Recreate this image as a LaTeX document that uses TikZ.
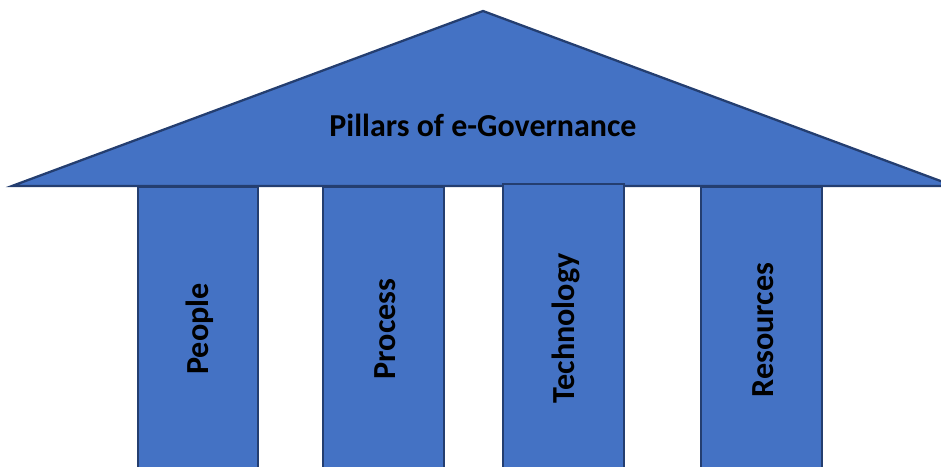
\documentclass[tikz,border=0pt]{standalone}
\usepackage{fontspec}
\setmainfont{Carlito}
\begin{document}
\begin{tikzpicture}[x=0.02cm, y=-0.02cm,
  pillarbox/.style={draw=pillarline, fill=pillarblue, line width=1.3pt},
  pillarlabel/.style={font=\fontsize{18.3}{22}\selectfont\bfseries, rotate=90, anchor=base, inner sep=0pt}]
  % Define colors
  \definecolor{pillarblue}{RGB}{68,114,196}
  \definecolor{pillarline}{RGB}{36,62,112}

  \useasboundingbox (0,0) rectangle (941,467);
  \clip (0,0) rectangle (941,467);

  % Draw the roof
  \draw[pillarbox, line join=miter] (12,186) -- (483,11) -- (954,186) -- cycle;
  \node[font=\fontsize{18.2}{22}\selectfont\bfseries, anchor=base, inner sep=0pt] (roof) at (483,136) {Pillars of e-Governance};

  % Draw four pillars
  \draw[pillarbox] (138,187) rectangle (258,490);
  \draw[pillarbox] (323,187) rectangle (444,490);
  \draw[pillarbox] (503,184) rectangle (624,490);
  \draw[pillarbox] (701,187) rectangle (822,490);

  % Add pillar labels
  \node[pillarlabel] (people) at (208,329) {People};
  \node[pillarlabel] (process) at (395,329) {Process};
  \node[pillarlabel] (technology) at (574,328.5) {Technology};
  \node[pillarlabel] (resources) at (773,330) {Resources};
\end{tikzpicture}
\end{document}
